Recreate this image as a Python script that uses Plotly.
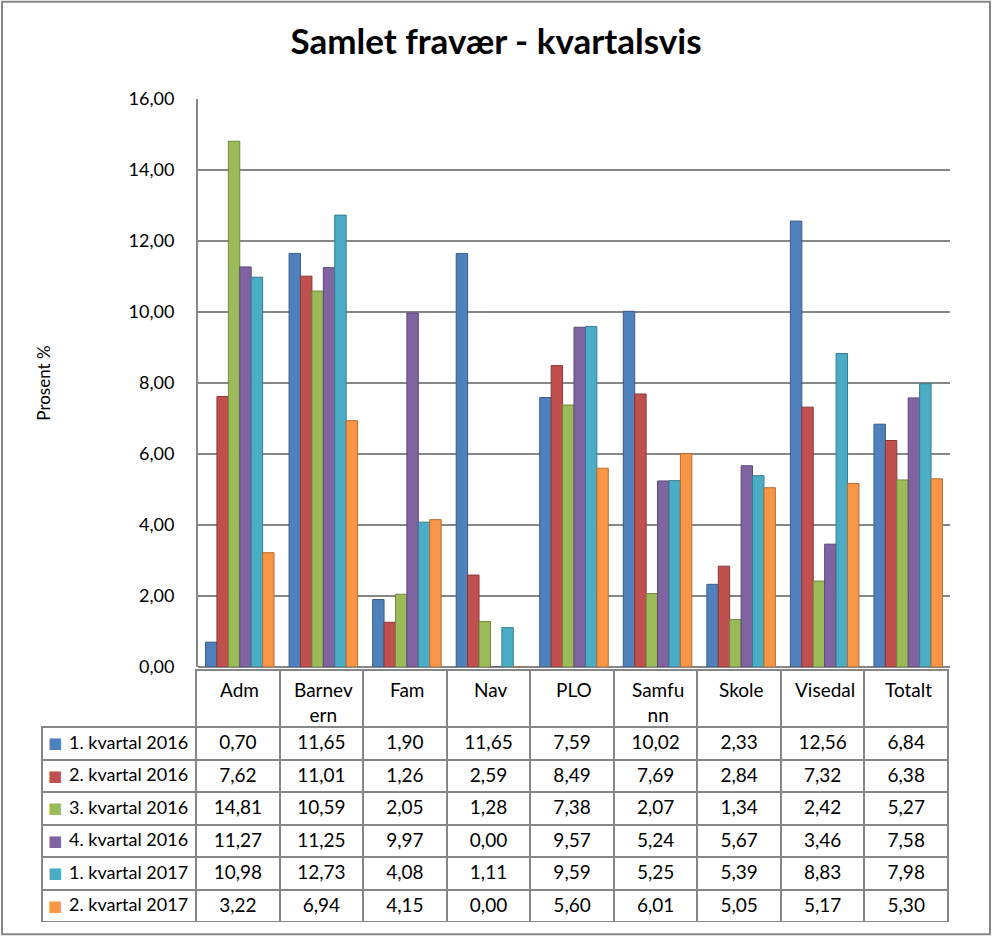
import plotly.graph_objects as go

categories = ["Adm", "Barnevern", "Fam", "Nav", "PLO", "Samfunn", "Skole", "Visedal", "Totalt"]
header_labels = ["Adm", "Barnev<br>ern", "Fam", "Nav", "PLO", "Samfu<br>nn", "Skole", "Visedal", "Totalt"]
series_names = ["1. kvartal 2016", "2. kvartal 2016", "3. kvartal 2016",
                "4. kvartal 2016", "1. kvartal 2017", "2. kvartal 2017"]

q1_2016 = [0.70, 11.65, 1.90, 11.65, 7.59, 10.02, 2.33, 12.56, 6.84]
q2_2016 = [7.62, 11.01, 1.26, 2.59, 8.49, 7.69, 2.84, 7.32, 6.38]
q3_2016 = [14.81, 10.59, 2.05, 1.28, 7.38, 2.07, 1.34, 2.42, 5.27]
q4_2016 = [11.27, 11.25, 9.97, 0.00, 9.57, 5.24, 5.67, 3.46, 7.58]
q1_2017 = [10.98, 12.73, 4.08, 1.11, 9.59, 5.25, 5.39, 8.83, 7.98]
q2_2017 = [3.22, 6.94, 4.15, 0.00, 5.60, 6.01, 5.05, 5.17, 5.30]

series_values = [q1_2016, q2_2016, q3_2016, q4_2016, q1_2017, q2_2017]
colors = ["#4F81BD", "#C0504D", "#9BBB59", "#8064A2", "#4BACC6", "#F79646"]
edge = ["#385D8A", "#8C3836", "#71893F", "#5C4776", "#357D91", "#B66D31"]

W, H = 992, 937
FONT = "Lato"
GRAY = "#868686"
CLEAR = "rgba(0,0,0,0)"

TABLE_TOP, HEADER_H, ROW_H = 670, 57, 32.5


def px_x(x):
    return x / W


def px_y(y):
    return 1 - y / H


fig = go.Figure()

for name, vals, c, e in zip(series_names, series_values, colors, edge):
    fig.add_trace(go.Bar(
        x=categories, y=vals, name=name,
        marker=dict(color=c, line=dict(color=e, width=1)),
        showlegend=False,
    ))


# data table under the chart
def fmt(v):
    return f"{v:.2f}".replace(".", ",")


columns = [series_names]
for i in range(len(categories)):
    columns.append([fmt(vals[i]) for vals in series_values])

table_bottom = TABLE_TOP + HEADER_H + ROW_H * len(series_names)
fig.add_trace(go.Table(
    domain=dict(x=[px_x(42), px_x(948)], y=[px_y(table_bottom), px_y(TABLE_TOP)]),
    columnwidth=[154] + [83.5] * len(categories),
    header=dict(
        values=[""] * (len(categories) + 1),
        height=HEADER_H,
        fill_color=[CLEAR] + ["white"] * len(categories),
        line=dict(color=[CLEAR] + [GRAY] * len(categories), width=2),
        font=dict(family=FONT, size=19, color="black"),
    ),
    cells=dict(
        values=columns,
        height=ROW_H,
        fill_color="white",
        line=dict(color=GRAY, width=2),
        font=dict(family=FONT, size=[18] + [19] * len(categories), color="black"),
        align=["right"] + ["center"] * len(categories),
    ),
))

annotations = []
# category names in the table header (two-line labels)
for cat, lab in zip(categories, header_labels):
    annotations.append(dict(text=lab, x=cat, xref="x", y=px_y(676), yref="paper",
                            xanchor="center", yanchor="top", showarrow=False,
                            font=dict(family=FONT, size=19, color="black")))
# colour keys in the legend column of the table
for i, c in enumerate(colors):
    yc = TABLE_TOP + HEADER_H + ROW_H * (i + 0.5)
    annotations.append(dict(text="■", x=px_x(55), y=px_y(yc), xref="paper", yref="paper",
                            xanchor="center", yanchor="middle", showarrow=False,
                            font=dict(family="DejaVu Sans", size=15, color=c)))

fig.update_layout(
    width=W, height=H,
    margin=dict(l=0, r=0, t=0, b=0, autoexpand=False),
    paper_bgcolor="white", plot_bgcolor="white",
    separators=", ",
    barmode="group", bargap=0.18, bargroupgap=0,
    font=dict(family=FONT, size=16, color="black"),
    title=dict(text="<b>Samlet fravær - kvartalsvis</b>", x=0.5, xanchor="center",
               y=px_y(42), yanchor="middle",
               font=dict(family=FONT, size=35, color="black")),
    xaxis=dict(domain=[px_x(198), px_x(950)], showticklabels=False, showgrid=False,
               zeroline=False, showline=False, automargin=False),
    yaxis=dict(domain=[px_y(667), px_y(99)], range=[0, 16], dtick=2, tickformat=".2f",
               showgrid=True, gridcolor=GRAY, gridwidth=2,
               showline=True, linecolor=GRAY, linewidth=2,
               zeroline=True, zerolinecolor=GRAY, zerolinewidth=2,
               ticks="", ticklabelstandoff=18, automargin=False,
               tickfont=dict(family=FONT, size=18, color="black"),
               title=dict(text="Prosent %", font=dict(family=FONT, size=17, color="black"),
                          standoff=74)),
    annotations=annotations,
    shapes=[dict(type="rect", xref="paper", yref="paper", x0=0.002, x1=0.998,
                 y0=0.003, y1=0.998, line=dict(color=GRAY, width=2))],
)

fig.write_html("out.html", config={"displayModeBar": False},
               post_script="document.body.style.margin='0';")
